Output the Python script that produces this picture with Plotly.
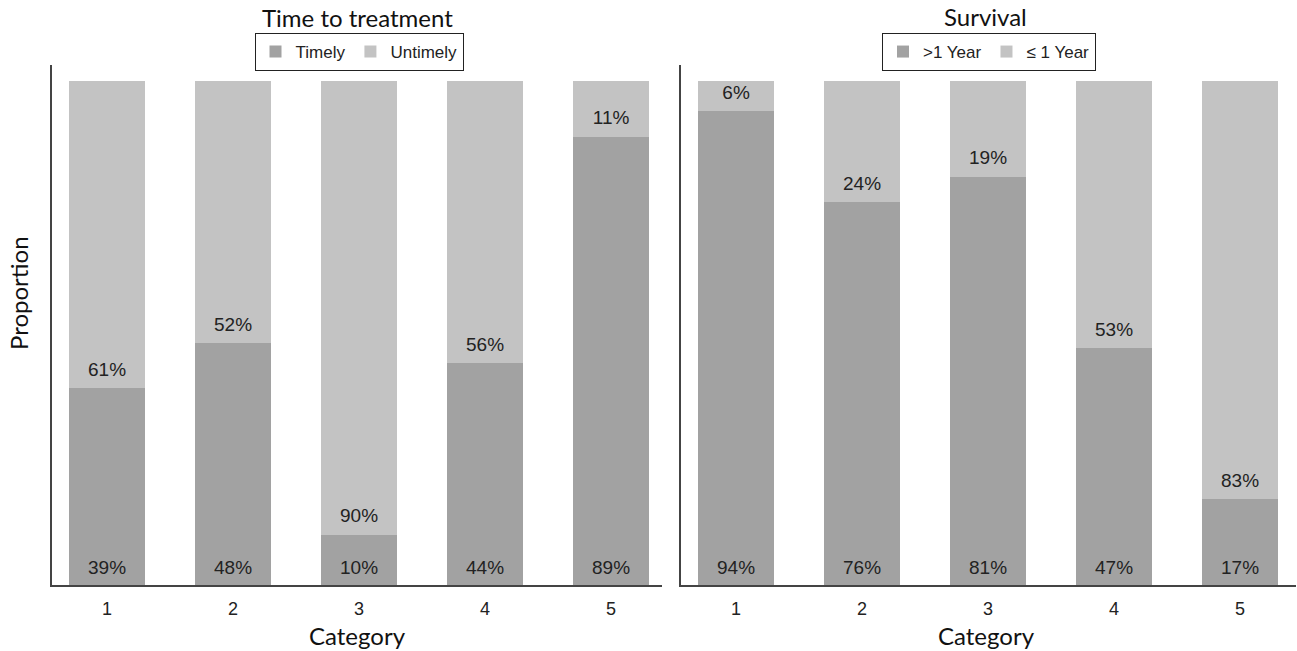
import plotly.graph_objects as go

categories = [1, 2, 3, 4, 5]
timely = [39, 48, 10, 44, 89]
untimely = [61, 52, 90, 56, 11]
surv_gt1 = [94, 76, 81, 47, 17]
surv_le1 = [6, 24, 19, 53, 83]

DARK = "#a2a2a2"
LIGHT = "#c3c3c3"
LBL_FONT = dict(family="Liberation Sans, Arial", size=19, color="#222222")
TITLE_FONT = dict(family="Lato, Open Sans", size=24, color="#111111")
LEG_FONT = dict(family="Liberation Sans, Arial", size=17, color="#222222")

W, H = 1297, 651


def px(x):
    return x / W


def py(y):
    return 1 - y / H


fig = go.Figure()


def panel(xa, ya, low, high, low_name, high_name, leg):
    lowp = [v / 100 for v in low]
    highp = [v / 100 for v in high]
    fig.add_trace(go.Bar(x=categories, y=lowp, name=low_name, marker_color=DARK,
                         marker_line_width=0, width=0.6, xaxis=xa, yaxis=ya, legend=leg))
    fig.add_trace(go.Bar(x=categories, y=highp, name=high_name, marker_color=LIGHT,
                         marker_line_width=0, width=0.6, xaxis=xa, yaxis=ya, legend=leg))
    fig.add_trace(go.Scatter(x=categories, y=[0.032] * len(categories), mode="text",
                             text=[f"{v}%" for v in low], textfont=LBL_FONT,
                             showlegend=False, xaxis=xa, yaxis=ya, hoverinfo="skip"))
    fig.add_trace(go.Scatter(x=categories, y=[l + 0.034 for l in lowp], mode="text",
                             text=[f"{v}%" for v in high], textfont=LBL_FONT,
                             showlegend=False, xaxis=xa, yaxis=ya, hoverinfo="skip"))


panel("x", "y", timely, untimely, "Timely", "Untimely", "legend")
panel("x2", "y2", surv_gt1, surv_le1, ">1 Year", "\u2264 1 Year", "legend2")

ydom = [py(585), py(65)]
axis_common = dict(showline=True, linecolor="#444444", linewidth=2, showgrid=False,
                   zeroline=False, ticks="", fixedrange=True, automargin=False)
tickf = dict(family="Liberation Sans, Arial", size=18, color="#222")
UNIT = 126.0  # pixels per category
fig.update_layout(
    width=W, height=H, barmode="stack", bargap=0.4,
    plot_bgcolor="white", paper_bgcolor="white",
    margin=dict(l=0, r=0, t=0, b=0),
    xaxis=dict(domain=[px(52), px(662)], range=[0.563, 0.563 + (662 - 52) / UNIT], anchor="y",
               tickvals=categories, tickfont=tickf, ticklabelstandoff=6, **axis_common),
    yaxis=dict(domain=ydom, range=[0, 1.032], anchor="x", showticklabels=False, **axis_common),
    xaxis2=dict(domain=[px(681), px(1296)], range=[0.563, 0.563 + (1296 - 681) / UNIT],
                anchor="y2", tickvals=categories, tickfont=tickf, ticklabelstandoff=6,
                **axis_common),
    yaxis2=dict(domain=ydom, range=[0, 1.032], anchor="x2", showticklabels=False, **axis_common),
    legend=dict(orientation="h", x=px(359), xanchor="center", y=py(52), yanchor="middle",
                bordercolor="#222", borderwidth=1, font=LEG_FONT, traceorder="normal",
                itemwidth=30, tracegroupgap=0),
    legend2=dict(orientation="h", x=px(989), xanchor="center", y=py(52), yanchor="middle",
                 bordercolor="#222", borderwidth=1, font=LEG_FONT, traceorder="normal",
                 itemwidth=30, tracegroupgap=0),
    annotations=[
        dict(text="Time to treatment", x=px(357), y=py(18), xref="paper", yref="paper",
             showarrow=False, font=TITLE_FONT, xanchor="center", yanchor="middle"),
        dict(text="Survival", x=px(985), y=py(17), xref="paper", yref="paper",
             showarrow=False, font=TITLE_FONT, xanchor="center", yanchor="middle"),
        dict(text="Category", x=px(357), y=py(635), xref="paper", yref="paper",
             showarrow=False, font=TITLE_FONT, xanchor="center", yanchor="middle"),
        dict(text="Category", x=px(986), y=py(635), xref="paper", yref="paper",
             showarrow=False, font=TITLE_FONT, xanchor="center", yanchor="middle"),
        dict(text="Proportion", x=px(18), y=py(293), xref="paper", yref="paper",
             showarrow=False, font=TITLE_FONT, textangle=-90,
             xanchor="center", yanchor="middle"),
    ],
    showlegend=True,
)

fig.write_html(
    "out.html",
    config={"displayModeBar": False},
    post_script=(
        "document.body.style.margin='0';"
        "document.documentElement.style.overflow='hidden';"
        "document.body.style.overflow='hidden';"
    ),
)
